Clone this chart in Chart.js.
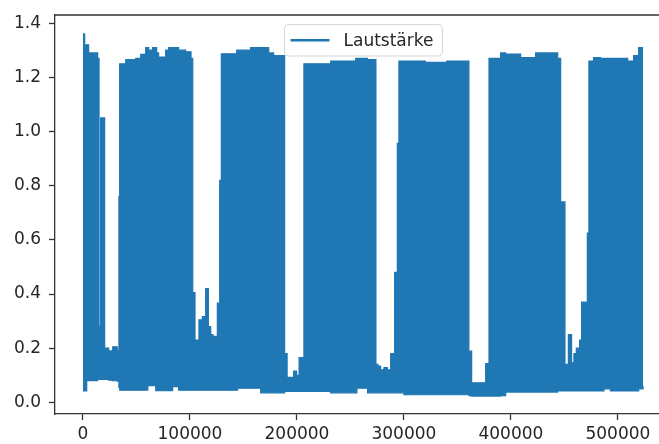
<!DOCTYPE html>
<html>
<head>
<meta charset="utf-8">
<script src="https://cdn.jsdelivr.net/npm/chart.js@4.4.0/dist/chart.umd.min.js"></script>
<style>
  html, body { margin: 0; padding: 0; background: #fff; overflow: hidden; }
  #wrap { width: 659px; height: 444px; overflow: hidden; }
</style>
</head>
<body>
<div id="wrap"><canvas id="chart" width="680" height="444"></canvas></div>
<script>
// Sample positions where the envelope of the signal changes
const sampleIdx = [
  0, 1600, 3500, 5300, 13700, 15000, 16500, 20300, 24000, 27800,
  32000, 33600, 34300, 40000, 49300, 54000, 58600, 60600, 61400, 65100,
  68000, 68900, 70700, 77300, 80100, 83800, 89400, 96000, 101000, 102600,
  104700, 108400, 111600, 114700, 117200, 119400, 121500, 125600, 127800, 129300,
  143700, 144600, 156700, 166100, 173600, 178200, 188500, 190800, 196900, 199700,
  202000, 206500, 231500, 254900, 256000, 266000, 273800, 275700, 278200, 281300,
  284500, 287600, 291300, 293800, 295300, 300000, 320000, 340000, 360700, 363300,
  376400, 379500, 390400, 395100, 409100, 423100, 443700, 446500, 450500, 453700,
  456700, 458900, 461100, 464200, 466100, 471400, 472900, 477300, 483800, 487000,
  493000, 509100, 514700, 519400, 523500
];
// Upper envelope (peak level)
const peakMax = [
  1.36, 1.32, 1.32, 1.29, 1.27, 0.28, 1.05, 0.20, 0.19, 0.205,
  0.19, 0.76, 1.25, 1.265, 1.27, 1.285, 1.31, 1.31, 1.30, 1.31,
  1.31, 1.29, 1.275, 1.30, 1.31, 1.31, 1.30, 1.294, 1.27, 0.405,
  0.23, 0.305, 0.317, 0.42, 0.28, 0.25, 0.244, 0.366, 0.82, 1.287,
  1.30, 1.30, 1.31, 1.31, 1.29, 1.28, 0.18, 0.092, 0.115, 0.10,
  0.165, 1.25, 1.26, 1.27, 1.27, 1.265, 0.14, 0.134, 0.12, 0.128,
  0.12, 0.18, 0.48, 0.956, 1.26, 1.26, 1.255, 1.26, 0.189, 0.072,
  0.143, 1.27, 1.29, 1.286, 1.273, 1.29, 1.27, 0.74, 0.14, 0.25,
  0.146, 0.18, 0.20, 0.23, 0.37, 0.625, 1.26, 1.273, 1.27, 1.27,
  1.27, 1.26, 1.28, 1.31, 1.31
];
// Lower envelope
const peakMin = [
  0.042, 0.042, 0.08, 0.08, 0.085, 0.085, 0.085, 0.085, 0.082, 0.08,
  0.078, 0.055, 0.045, 0.045, 0.045, 0.045, 0.045, 0.062, 0.062, 0.062,
  0.043, 0.043, 0.043, 0.043, 0.043, 0.058, 0.045, 0.045, 0.045, 0.045,
  0.045, 0.045, 0.045, 0.045, 0.045, 0.045, 0.045, 0.045, 0.045, 0.045,
  0.045, 0.052, 0.052, 0.035, 0.035, 0.035, 0.04, 0.04, 0.04, 0.04,
  0.04, 0.04, 0.035, 0.035, 0.052, 0.035, 0.035, 0.035, 0.035, 0.035,
  0.035, 0.035, 0.035, 0.035, 0.035, 0.028, 0.028, 0.028, 0.025, 0.023,
  0.023, 0.023, 0.025, 0.038, 0.038, 0.038, 0.042, 0.042, 0.042, 0.042,
  0.042, 0.042, 0.042, 0.042, 0.042, 0.042, 0.042, 0.042, 0.042, 0.05,
  0.042, 0.042, 0.042, 0.05, 0.06
];
const xTicks = [0, 100000, 200000, 300000, 400000, 500000];
const yTicks = [0.0, 0.2, 0.4, 0.6, 0.8, 1.0, 1.2, 1.4];
const seriesLabel = 'Lautstärke';

const blue = '#1f77b4';
const upper = sampleIdx.map((x, i) => ({ x: x, y: peakMax[i] }));
const lower = sampleIdx.map((x, i) => ({ x: x, y: peakMin[i] }));

Chart.defaults.font.family = "'DejaVu Sans', sans-serif";
Chart.defaults.font.size = 17;
Chart.defaults.color = '#262626';

// matplotlib-like frame top line + legend box inside the plot
const frameAndLegend = {
  id: 'frameAndLegend',
  afterDraw(chart) {
    const { ctx, chartArea } = chart;
    ctx.save();
    ctx.strokeStyle = '#333';
    ctx.lineWidth = 1.3;
    ctx.beginPath();
    ctx.moveTo(chartArea.left, chartArea.top);
    ctx.lineTo(chartArea.right, chartArea.top);
    ctx.stroke();

    ctx.font = "17px 'DejaVu Sans', sans-serif";
    const textW = ctx.measureText(seriesLabel).width;
    const w = 6 + 39 + 14 + textW + 9;
    const h = 31.5;
    const cx = (chartArea.left + chartArea.right) / 2;
    const x0 = Math.round(cx - w / 2) + 0.5;
    const y0 = chartArea.top + 9.5;
    ctx.beginPath();
    ctx.roundRect(x0, y0, w, h, 4);
    ctx.fillStyle = 'rgba(255,255,255,0.85)';
    ctx.fill();
    ctx.strokeStyle = '#d6d6d6';
    ctx.lineWidth = 1;
    ctx.stroke();

    ctx.strokeStyle = blue;
    ctx.lineWidth = 2.5;
    ctx.beginPath();
    ctx.moveTo(x0 + 6, y0 + h / 2);
    ctx.lineTo(x0 + 45, y0 + h / 2);
    ctx.stroke();

    ctx.fillStyle = '#262626';
    ctx.textBaseline = 'middle';
    ctx.fillText(seriesLabel, x0 + 59, y0 + h / 2 + 1);
    ctx.restore();
  }
};

new Chart(document.getElementById('chart'), {
  type: 'line',
  data: {
    datasets: [
      {
        label: 'min',
        data: lower,
        borderColor: blue,
        borderWidth: 1.2,
        pointRadius: 0,
        stepped: true,
        fill: false
      },
      {
        label: seriesLabel,
        data: upper,
        borderColor: blue,
        backgroundColor: blue,
        borderWidth: 1.2,
        pointRadius: 0,
        stepped: true,
        fill: '-1'
      }
    ]
  },
  options: {
    responsive: false,
    animation: false,
    layout: { padding: { top: 15, right: 9.5, left: 0, bottom: 0 } },
    plugins: {
      legend: { display: false },
      tooltip: { enabled: false }
    },
    scales: {
      x: {
        type: 'linear',
        min: -26150,
        max: 549150,
        afterBuildTicks: s => { s.ticks = xTicks.map(v => ({ value: v })); },
        afterFit: s => { s.height = 30; },
        grid: { drawOnChartArea: false, drawTicks: true, tickLength: 6, tickColor: '#333', tickWidth: 1.3 },
        border: { display: true, color: '#333', width: 1.3 },
        ticks: { padding: 4, maxRotation: 0, callback: v => String(v) }
      },
      y: {
        type: 'linear',
        min: -0.043,
        max: 1.43,
        afterBuildTicks: s => { s.ticks = yTicks.map(v => ({ value: v })); },
        afterFit: s => { s.width = 55; },
        grid: { drawOnChartArea: false, drawTicks: true, tickLength: 6, tickColor: '#333', tickWidth: 1.3 },
        border: { display: true, color: '#333', width: 1.3 },
        ticks: { padding: 8, font: { lineHeight: 0.8 }, callback: v => v.toFixed(1) }
      }
    }
  },
  plugins: [frameAndLegend]
});
</script>
</body>
</html>
